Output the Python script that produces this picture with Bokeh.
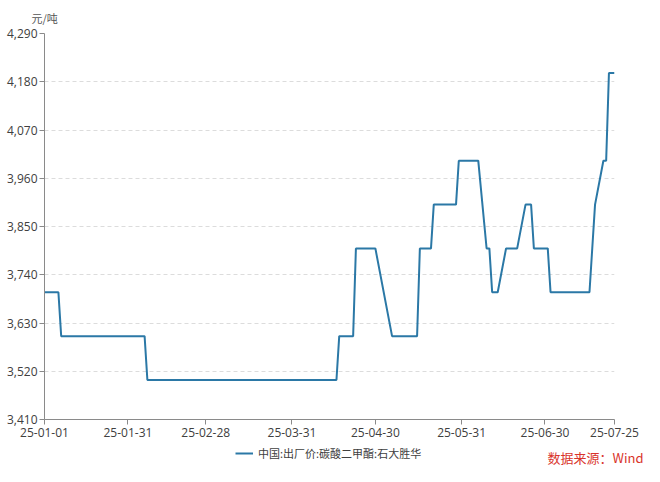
import pandas as pd
from bokeh.plotting import figure
from bokeh.layouts import column, row
from bokeh.models import (Range1d, FixedTicker, NumeralTickFormatter, DatetimeTickFormatter,
                          Legend, LegendItem, Title, Label, ColumnDataSource)
from bokeh.embed import file_html
from bokeh.resources import INLINE

# ---- data ----
dates = ["2025-01-01", "2025-01-06", "2025-01-07", "2025-02-06", "2025-02-07",
         "2025-04-16", "2025-04-17", "2025-04-22", "2025-04-23", "2025-04-30",
         "2025-05-06", "2025-05-15", "2025-05-16", "2025-05-20", "2025-05-21",
         "2025-05-29", "2025-05-30", "2025-06-06", "2025-06-09", "2025-06-10",
         "2025-06-11", "2025-06-13", "2025-06-16", "2025-06-20", "2025-06-23",
         "2025-06-25", "2025-06-26", "2025-07-01", "2025-07-02", "2025-07-16",
         "2025-07-18", "2025-07-21", "2025-07-22", "2025-07-23", "2025-07-25"]
prices = [3700, 3700, 3600, 3600, 3500,
          3500, 3600, 3600, 3800, 3800,
          3600, 3600, 3800, 3800, 3900,
          3900, 4000, 4000, 3800, 3800,
          3700, 3700, 3800, 3800, 3900,
          3900, 3800, 3800, 3700, 3700,
          3900, 4000, 4000, 4200, 4200]
y_ticks = [3410, 3520, 3630, 3740, 3850, 3960, 4070, 4180, 4290]
x_tick_dates = ["2025-01-01", "2025-01-31", "2025-02-28", "2025-03-31",
                "2025-04-30", "2025-05-31", "2025-06-30", "2025-07-25"]
series_name = "中国:出厂价:碳酸二甲酯:石大胜华"
unit_label = "元/吨"
source_label = "数据来源：Wind"

# ---- styling ----
LINE_COLOR = "#2b78a6"
CJK = "Noto Sans CJK SC"
LAT = "Open Sans"
W = 644

# ---- main chart ----
src = ColumnDataSource(dict(x=pd.to_datetime(dates), y=prices))

p = figure(width=W, height=443, x_axis_type="datetime",
           output_backend="svg", toolbar_location=None,
           min_border_left=44, min_border_right=30, min_border_top=31, min_border_bottom=24)
p.outline_line_color = None
p.x_range = Range1d(pd.Timestamp(x_tick_dates[0]), pd.Timestamp(x_tick_dates[-1]))
p.y_range = Range1d(y_ticks[0], y_ticks[-1])

r = p.line("x", "y", source=src, line_color=LINE_COLOR, line_width=2)

tick_ms = [pd.Timestamp(d).value // 10**6 for d in x_tick_dates]
p.xaxis.ticker = FixedTicker(ticks=tick_ms)
fmt = "%y-%m-%d"
p.xaxis.formatter = DatetimeTickFormatter(milliseconds=fmt, seconds=fmt, minsec=fmt, minutes=fmt,
                                          hourmin=fmt, hours=fmt, days=fmt, months=fmt, years=fmt)
p.yaxis.ticker = FixedTicker(ticks=y_ticks)
p.yaxis.formatter = NumeralTickFormatter(format="0,0")
for ax in (p.xaxis, p.yaxis):
    ax.axis_line_color = "#8a8a8a"
    ax.major_tick_line_color = "#8a8a8a"
    ax.major_tick_out = 5
    ax.major_tick_in = 0
    ax.minor_tick_line_color = None
    ax.major_label_text_font = LAT
    ax.major_label_text_font_size = "12px"
    ax.major_label_text_color = "#404040"
p.xaxis.major_label_standoff = 3
p.yaxis.major_label_standoff = 2

p.xgrid.grid_line_color = None
p.ygrid.grid_line_color = "#dcdcdc"
p.ygrid.grid_line_dash = "4 3"
p.ygrid.grid_line_width = 1

p.add_layout(Title(text=unit_label, align="left", offset=-13, standoff=15, text_font=CJK,
                   text_font_size="11px", text_font_style="normal", text_color="#555555"), "above")

# ---- strip below: legend + source note ----
H2 = 23
q = figure(width=W, height=H2, output_backend="svg", toolbar_location=None,
           x_axis_location=None, y_axis_location=None,
           x_range=Range1d(0, W), y_range=Range1d(0, H2),
           min_border_left=0, min_border_right=0, min_border_top=0, min_border_bottom=0)
q.grid.visible = False
q.outline_line_color = None
# same series drawn in this strip only to give the legend its swatch (falls outside the strip's range)
swatch = q.line("x", "y", source=src, line_color=LINE_COLOR, line_width=2)
legend = Legend(items=[LegendItem(label=series_name, renderers=[swatch])],
                orientation="horizontal", location=(235, 5),
                label_text_font=CJK, label_text_font_size="11px", label_text_color="#404040",
                glyph_width=18, glyph_height=12, label_height=12, label_standoff=5,
                padding=2, margin=0, border_line_color=None, background_fill_alpha=0)
q.add_layout(legend, "center")
q.add_layout(Label(x=W - 1, y=0, text=source_label, text_align="right", text_baseline="bottom",
                   text_font=CJK, text_font_size="13px", text_color="#d9342b"))

layout = column(p, row(q), spacing=0)
open("out.html", "w").write(file_html(layout, INLINE))
